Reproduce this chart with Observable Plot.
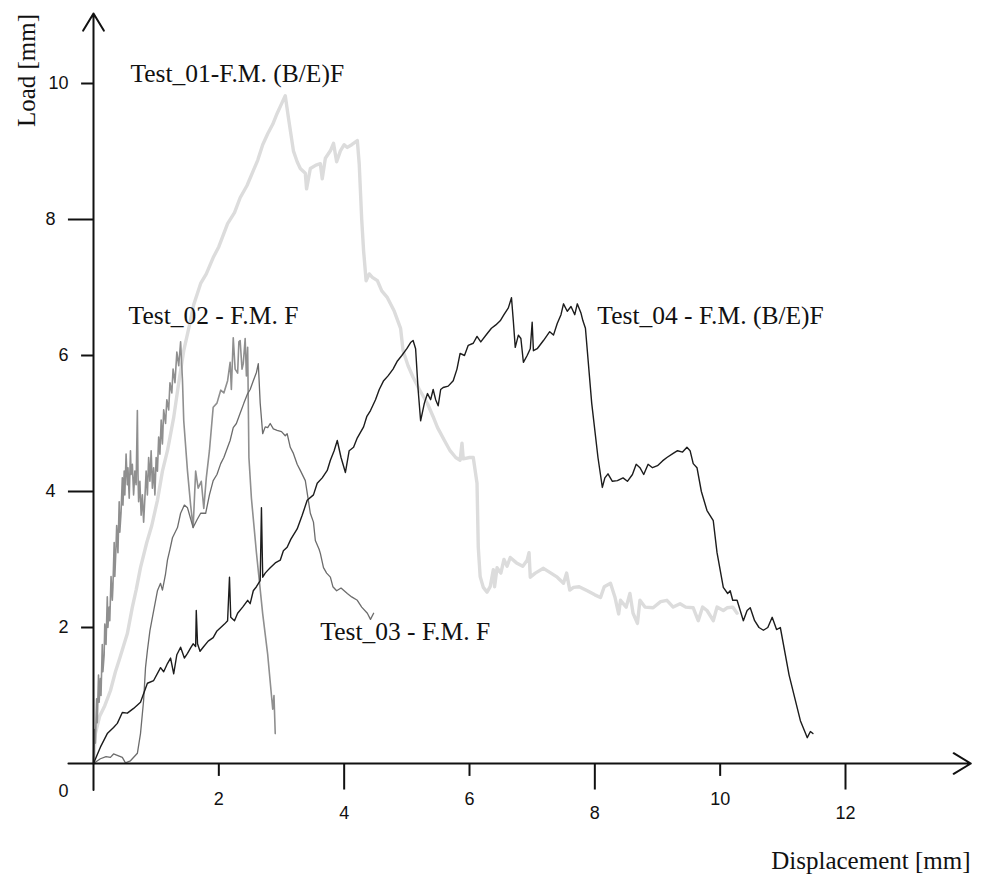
<!DOCTYPE html>
<html>
<head>
<meta charset="utf-8">
<script src="https://cdn.jsdelivr.net/npm/d3@7"></script>
<script src="https://cdn.jsdelivr.net/npm/@observablehq/plot@0.6"></script>
<style>
  html, body { margin: 0; padding: 0; background: #fff; }
  #chart svg { display: block; }
</style>
</head>
<body>
<div id="chart"></div>
<script>
// ---- data (displacement [mm], load) ----
const test01 = [[0,0],[0.03,0.44],[0.1,0.7],[0.18,0.85],[0.27,1.07],[0.35,1.35],[0.42,1.55],[0.54,1.91],[0.62,2.3],[0.68,2.55],[0.75,2.88],[0.85,3.25],[0.93,3.5],[1.02,3.87],[1.1,4.3],[1.18,4.6],[1.28,5.09],[1.36,5.6],[1.44,6.07],[1.52,6.4],[1.6,6.75],[1.71,7.06],[1.8,7.2],[1.91,7.44],[2.0,7.6],[2.14,7.94],[2.25,8.1],[2.34,8.32],[2.45,8.5],[2.55,8.72],[2.62,8.87],[2.7,9.1],[2.78,9.26],[2.86,9.4],[2.93,9.56],[3.0,9.7],[3.06,9.82],[3.11,9.5],[3.19,9.01],[3.25,8.85],[3.3,8.75],[3.38,8.68],[3.4,8.45],[3.46,8.75],[3.55,8.8],[3.62,8.82],[3.65,8.6],[3.7,8.9],[3.78,9.01],[3.83,9.12],[3.88,8.85],[3.94,9.01],[4.0,9.1],[4.05,9.06],[4.12,9.1],[4.21,9.16],[4.24,8.82],[4.28,8.0],[4.31,7.54],[4.35,7.1],[4.4,7.2],[4.45,7.15],[4.53,7.1],[4.6,6.95],[4.69,6.85],[4.8,6.65],[4.9,6.4],[4.94,6.07],[5.02,5.85],[5.1,5.68],[5.2,5.5],[5.33,5.29],[5.42,5.1],[5.49,4.94],[5.6,4.75],[5.69,4.6],[5.78,4.5],[5.85,4.46],[5.88,4.71],[5.9,4.48],[6.0,4.5],[6.06,4.5],[6.12,4.12],[6.14,3.18],[6.17,2.75],[6.22,2.59],[6.28,2.52],[6.33,2.6],[6.38,2.85],[6.4,2.6],[6.44,2.88],[6.5,2.8],[6.55,3.0],[6.6,2.9],[6.65,3.03],[6.75,2.95],[6.85,2.9],[6.92,2.99],[6.95,3.1],[6.97,2.74],[7.05,2.8],[7.18,2.87],[7.3,2.8],[7.4,2.74],[7.5,2.65],[7.55,2.8],[7.6,2.55],[7.66,2.59],[7.75,2.6],[7.88,2.54],[8.0,2.48],[8.09,2.44],[8.15,2.6],[8.25,2.65],[8.32,2.45],[8.38,2.2],[8.41,2.4],[8.5,2.3],[8.56,2.5],[8.61,2.21],[8.68,2.06],[8.72,2.4],[8.8,2.3],[8.93,2.29],[9.05,2.38],[9.15,2.4],[9.25,2.3],[9.36,2.35],[9.45,2.3],[9.57,2.29],[9.65,2.1],[9.72,2.3],[9.79,2.25],[9.89,2.1],[9.95,2.3],[10.05,2.25],[10.11,2.29],[10.2,2.3],[10.27,2.21]];

const test02 = [[0,0],[0.02,0.5],[0.03,0.3],[0.05,0.95],[0.06,0.6],[0.08,1.3],[0.09,0.9],[0.11,1.25],[0.12,1.0],[0.14,1.75],[0.15,1.35],[0.17,1.6],[0.18,2.05],[0.2,1.75],[0.22,2.45],[0.23,2.0],[0.25,2.3],[0.26,2.1],[0.28,2.75],[0.3,2.4],[0.31,2.6],[0.33,3.25],[0.34,2.75],[0.36,3.2],[0.37,3.5],[0.39,3.1],[0.41,3.85],[0.42,3.4],[0.44,3.7],[0.46,4.2],[0.47,3.8],[0.49,4.3],[0.5,3.95],[0.52,4.55],[0.54,4.1],[0.55,4.35],[0.57,3.9],[0.59,4.6],[0.6,4.25],[0.62,4.4],[0.64,3.95],[0.66,4.3],[0.68,4.1],[0.7,5.19],[0.71,4.25],[0.72,3.85],[0.74,4.15],[0.76,3.65],[0.78,3.95],[0.8,3.55],[0.82,3.9],[0.84,4.3],[0.86,3.95],[0.88,4.5],[0.9,4.15],[0.92,4.6],[0.94,4.05],[0.96,4.35],[0.98,3.95],[1.0,4.5],[1.02,4.3],[1.04,4.8],[1.06,4.55],[1.08,5.05],[1.1,4.7],[1.12,5.2],[1.15,5.0],[1.17,5.35],[1.2,5.2],[1.22,5.6],[1.25,5.45],[1.27,5.8],[1.3,5.6],[1.33,6.05],[1.36,5.85],[1.39,6.2],[1.42,5.63],[1.44,5.04],[1.5,4.3],[1.55,3.8],[1.59,3.47],[1.63,4.3],[1.67,4.05],[1.72,4.15],[1.76,3.75],[1.8,4.2],[1.85,4.6],[1.91,5.24],[1.97,5.3],[2.03,5.49],[2.08,5.45],[2.14,5.63],[2.18,5.9],[2.2,5.5],[2.23,6.26],[2.26,5.8],[2.3,5.74],[2.32,6.2],[2.34,6.22],[2.37,5.8],[2.39,5.88],[2.42,6.25],[2.44,5.7],[2.46,6.12],[2.48,4.5],[2.52,3.9],[2.6,3.1],[2.7,2.2],[2.78,1.6],[2.84,1.0],[2.86,0.8],[2.88,1.0],[2.9,0.44]];

const test03 = [[0,0],[0.11,0.07],[0.2,0.1],[0.27,0.09],[0.32,0.14],[0.38,0.12],[0.46,0.09],[0.51,0.01],[0.59,0.04],[0.7,0.15],[0.75,0.44],[0.8,0.93],[0.83,1.41],[0.86,1.66],[0.9,1.95],[0.94,2.15],[1.02,2.54],[1.07,2.65],[1.1,2.55],[1.15,2.79],[1.18,2.99],[1.22,3.15],[1.26,3.32],[1.34,3.47],[1.39,3.68],[1.45,3.8],[1.5,3.76],[1.55,3.6],[1.59,3.47],[1.65,3.58],[1.71,3.68],[1.79,3.68],[1.85,3.95],[1.91,4.16],[1.97,4.25],[2.03,4.41],[2.08,4.5],[2.14,4.65],[2.18,4.75],[2.23,4.94],[2.28,5.0],[2.34,5.15],[2.4,5.3],[2.46,5.44],[2.5,5.5],[2.55,5.63],[2.6,5.75],[2.63,5.88],[2.66,5.3],[2.7,4.85],[2.74,4.95],[2.78,4.94],[2.82,5.0],[2.87,4.92],[2.93,4.9],[3.0,4.88],[3.06,4.82],[3.09,4.85],[3.14,4.65],[3.19,4.56],[3.25,4.4],[3.3,4.31],[3.38,4.16],[3.46,3.68],[3.51,3.55],[3.54,3.28],[3.6,3.15],[3.62,3.09],[3.67,2.88],[3.72,2.8],[3.78,2.74],[3.82,2.6],[3.88,2.54],[3.95,2.58],[4.05,2.5],[4.12,2.45],[4.21,2.4],[4.28,2.3],[4.37,2.21],[4.42,2.12],[4.47,2.21]];

const test04 = [[0,0],[0.11,0.24],[0.22,0.44],[0.32,0.53],[0.38,0.59],[0.46,0.75],[0.54,0.74],[0.64,0.81],[0.75,0.9],[0.86,1.18],[0.96,1.22],[1.07,1.41],[1.12,1.35],[1.18,1.47],[1.23,1.55],[1.28,1.32],[1.33,1.6],[1.39,1.71],[1.45,1.55],[1.5,1.62],[1.55,1.7],[1.59,1.76],[1.63,1.72],[1.64,2.25],[1.66,1.76],[1.7,1.65],[1.75,1.71],[1.83,1.8],[1.91,1.85],[1.97,1.95],[2.03,2.0],[2.09,2.05],[2.14,2.1],[2.17,2.74],[2.19,2.15],[2.25,2.1],[2.3,2.21],[2.38,2.3],[2.46,2.4],[2.5,2.35],[2.55,2.54],[2.6,2.6],[2.66,2.69],[2.68,3.76],[2.7,2.74],[2.74,2.8],[2.78,2.84],[2.82,2.88],[2.9,2.95],[2.98,2.99],[3.03,3.13],[3.09,3.18],[3.15,3.3],[3.25,3.45],[3.33,3.65],[3.41,3.87],[3.51,3.95],[3.57,4.12],[3.65,4.2],[3.73,4.31],[3.78,4.46],[3.84,4.6],[3.89,4.75],[3.95,4.5],[4.02,4.28],[4.08,4.6],[4.15,4.65],[4.21,4.79],[4.31,4.95],[4.36,5.1],[4.42,5.19],[4.5,5.35],[4.56,5.5],[4.63,5.63],[4.7,5.7],[4.78,5.8],[4.85,5.92],[4.92,6.0],[5.0,6.1],[5.06,6.19],[5.1,6.22],[5.14,6.1],[5.18,5.5],[5.22,5.04],[5.28,5.3],[5.33,5.44],[5.38,5.35],[5.42,5.5],[5.46,5.35],[5.5,5.26],[5.54,5.5],[5.58,5.53],[5.66,5.55],[5.74,5.63],[5.8,5.8],[5.85,6.03],[5.92,6.0],[5.98,6.15],[6.06,6.18],[6.12,6.28],[6.18,6.2],[6.28,6.32],[6.35,6.4],[6.42,6.45],[6.49,6.51],[6.55,6.6],[6.62,6.7],[6.67,6.85],[6.7,6.5],[6.73,6.12],[6.78,6.3],[6.82,6.25],[6.86,5.9],[6.92,6.0],[6.97,6.1],[7.0,6.49],[7.02,6.07],[7.08,6.1],[7.18,6.22],[7.28,6.35],[7.34,6.3],[7.4,6.47],[7.46,6.6],[7.5,6.76],[7.56,6.65],[7.62,6.72],[7.68,6.6],[7.72,6.76],[7.78,6.62],[7.81,6.51],[7.85,6.4],[7.95,5.3],[8.05,4.5],[8.12,4.06],[8.16,4.2],[8.21,4.26],[8.28,4.15],[8.36,4.16],[8.45,4.2],[8.52,4.15],[8.6,4.25],[8.66,4.4],[8.72,4.35],[8.78,4.25],[8.85,4.4],[8.92,4.35],[9.0,4.38],[9.08,4.45],[9.15,4.5],[9.25,4.56],[9.32,4.6],[9.4,4.58],[9.47,4.65],[9.52,4.6],[9.57,4.41],[9.63,4.35],[9.7,4.0],[9.79,3.72],[9.89,3.57],[9.95,3.1],[10.05,2.59],[10.12,2.5],[10.16,2.54],[10.2,2.4],[10.27,2.4],[10.32,2.25],[10.37,2.1],[10.43,2.25],[10.48,2.29],[10.55,2.1],[10.62,2.0],[10.69,1.96],[10.76,2.0],[10.83,2.15],[10.9,1.97],[10.96,2.0],[11.1,1.3],[11.28,0.63],[11.36,0.45],[11.39,0.38],[11.44,0.47],[11.48,0.44]];

const seriesNames = ["Test_01-F.M. (B/E)F", "Test_02 - F.M. F", "Test_03 - F.M. F", "Test_04 - F.M. (B/E)F"];
const xTickValues = [0, 2, 4, 6, 8, 10, 12];
const yTickValues = [2, 4, 6, 8, 10];
const xTitle = "Displacement [mm]";
const yTitle = "Load [mm]";

// ---- build ----
const toRows = (arr) => arr.map(([x, y]) => ({x, y}));
const serif = "'Liberation Serif', 'Times New Roman', serif";
const sans = "'Liberation Sans', Arial, sans-serif";
const isLong = (d) => (d / 2) % 2 === 0;   // 0,4,8,12 long; 2,6,10 short
const xLong = xTickValues.filter(d => d > 0 && isLong(d));
const xShort = xTickValues.filter(d => d > 0 && !isLong(d));
const yLong = yTickValues.filter(isLong);
const yShort = yTickValues.filter(d => !isLong(d));

const lineStyles = [
  {stroke: "#dcdcdc", strokeWidth: 3.4},
  {stroke: "#8f8f8f", strokeWidth: 1.6},
  {stroke: "#6c6c6c", strokeWidth: 1.3},
  {stroke: "#1c1c1c", strokeWidth: 1.4}
];
const allSeries = [test01, test02, test03, test04];
const axisStyle = {stroke: "#111", strokeWidth: 2};
const tickFont = {fontSize: 18, fontFamily: sans, fill: "#111"};
const labelFont = {fontSize: 25.5, fontFamily: serif, fill: "#111", textAnchor: "start", text: d => d};

const chart = Plot.plot({
  width: 983,
  height: 875,
  marginLeft: 93,
  marginRight: 138,
  marginTop: 83,
  marginBottom: 112,
  x: {domain: [0, 12], axis: null},
  y: {domain: [0, 10], axis: null},
  style: {background: "#fff", overflow: "visible"},
  marks: [
    // curves
    ...allSeries.map((s, i) => Plot.line(toRows(s), {x: "x", y: "y", ...lineStyles[i], strokeLinejoin: "round"})),
    // axes with arrow heads
    Plot.arrow([{x1: -0.4, y1: 0, x2: 14, y2: 0}], {x1: "x1", y1: "y1", x2: "x2", y2: "y2", ...axisStyle, headLength: 15, headAngle: 62}),
    Plot.arrow([{x1: 0, y1: -0.39, x2: 0, y2: 11.03}], {x1: "x1", y1: "y1", x2: "x2", y2: "y2", ...axisStyle, headLength: 15, headAngle: 62}),
    // x ticks
    Plot.ruleX(xLong, {x: d => d, y1: 0, y2: -0.39, ...axisStyle}),
    Plot.ruleX(xShort, {x: d => d, y1: 0, y2: -0.19, ...axisStyle}),
    // y ticks
    Plot.ruleY(yLong, {y: d => d, x1: -0.4, x2: 0, ...axisStyle}),
    Plot.ruleY(yShort, {y: d => d, x1: -0.19, x2: 0, ...axisStyle}),
    // x tick labels
    Plot.text(xLong, {x: d => d, y: 0, text: d => String(d), dy: 50, ...tickFont}),
    Plot.text(xShort, {x: d => d, y: 0, text: d => String(d), dy: 36, ...tickFont}),
    Plot.text([0], {x: d => d, y: 0, text: d => String(d), dx: -30, dy: 28, ...tickFont}),
    // y tick labels
    Plot.text(yLong, {x: 0, y: d => d, text: d => String(d), textAnchor: "end", dx: -38, ...tickFont}),
    Plot.text(yShort, {x: 0, y: d => d, text: d => String(d), textAnchor: "end", dx: -25, ...tickFont}),
    // axis titles
    Plot.text([yTitle], {frameAnchor: "top-left", text: d => d, rotate: -90, textAnchor: "middle", lineAnchor: "middle", dx: -67, dy: -13, fontSize: 25, fontFamily: serif, fill: "#111"}),
    Plot.text([xTitle], {frameAnchor: "bottom-right", text: d => d, textAnchor: "end", lineAnchor: "middle", dx: 125, dy: 97, fontSize: 25, fontFamily: serif, fill: "#111"}),
    // series labels
    Plot.text([seriesNames[0]], {x: 0.59, y: 10.14, ...labelFont}),
    Plot.text([seriesNames[1]], {x: 0.56, y: 6.59, ...labelFont}),
    Plot.text([seriesNames[2]], {x: 3.62, y: 1.93, ...labelFont}),
    Plot.text([seriesNames[3]], {x: 8.04, y: 6.59, ...labelFont})
  ]
});
document.getElementById("chart").appendChild(chart);
</script>
</body>
</html>
